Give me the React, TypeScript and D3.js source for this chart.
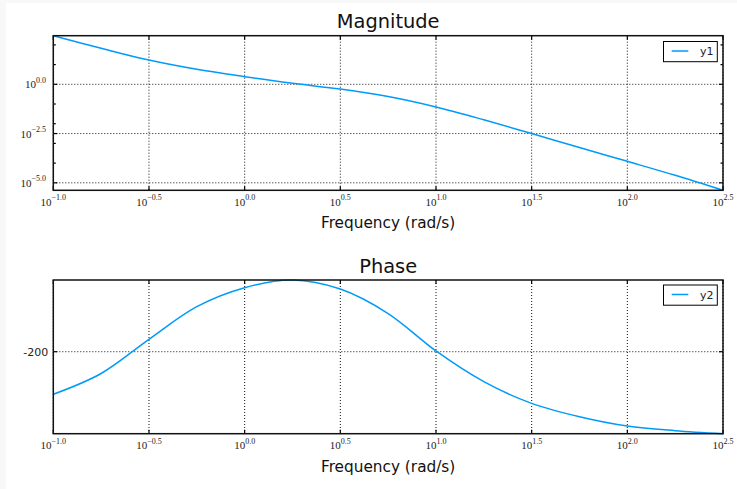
import React from "react";
import * as d3 from "d3";

// values (frequency in rad/s)
const frequency = [0.1, 0.1778, 0.3162, 0.5623, 1, 1.778, 3.162, 5.623, 10, 17.78, 31.62, 56.23, 100, 177.8, 316.2];
const magnitude = [293.1, 67.6, 17.0, 5.75, 2.45, 1.12, 0.575, 0.24, 0.0708, 0.0158, 0.00316, 0.000617, 0.000123, 2.4e-5, 4.17e-6];
const phase = [-234.8, -217.8, -189.9, -163.2, -147.7, -141.4, -148.8, -168.8, -199.4, -224.5, -242.2, -253.1, -260.7, -264.5, -267.0];

const xTickPowers = [-1, -0.5, 0, 0.5, 1, 1.5, 2, 2.5];
const magTickPowers = [0, -2.5, -5];
const magMinorPowers = [2, 1, -1, -2, -3, -4];
const phaseTicks = [-200];

const width = 737;
const height = 489;
const left = 53.3;
const right = 723;
const magBox = { top: 35.7, bottom: 190.3 };
const phaseBox = { top: 280, bottom: 433.7 };
const lineColor = "#009af9";
const sans = "DejaVu Sans, sans-serif";
const serif = "Liberation Serif, DejaVu Serif, serif";

const fmtPow = (p: number) => p.toFixed(1).replace("-", "\u2212");

const PowLabel = ({ x, y, p, anchor }: { x: number; y: number; p: number; anchor: string }) => (
  <text x={x} y={y} textAnchor={anchor} fontFamily={serif} fontSize={11} fill="#222">
    <tspan>10</tspan>
    <tspan dy={-5.5} fontSize={8}>{fmtPow(p)}</tspan>
  </text>
);

const App = () => {
  const x = d3.scaleLog().domain([Math.pow(10, -1), Math.pow(10, 2.5)]).range([left, right]);

  const yMag = d3
    .scaleLog()
    .domain(d3.extent(magnitude) as [number, number])
    .range([magBox.bottom, magBox.top]);

  const yPh = d3
    .scaleLinear()
    .domain(d3.extent(phase) as [number, number])
    .range([phaseBox.bottom, phaseBox.top]);

  const magLine = d3
    .line<number>()
    .x((_, i) => x(frequency[i]))
    .y((d) => yMag(d))
    .curve(d3.curveCatmullRom.alpha(0.5));

  const phaseLine = d3
    .line<number>()
    .x((_, i) => x(frequency[i]))
    .y((d) => yPh(d))
    .curve(d3.curveCatmullRom.alpha(0.5));

  const xTicks = (box: { top: number; bottom: number }) =>
    xTickPowers.map((p, i) => {
      const tx = x(Math.pow(10, p));
      return (
        <g key={"x" + i}>
          <line x1={tx} x2={tx} y1={box.top} y2={box.bottom} stroke="#111" strokeWidth={1} strokeDasharray="1 2" />
          <line x1={tx} x2={tx} y1={box.bottom} y2={box.bottom - 4} stroke="#000" strokeWidth={1.2} />
          <line x1={tx} x2={tx} y1={box.top} y2={box.top + 4} stroke="#000" strokeWidth={1.2} />
          <PowLabel x={tx} y={box.bottom + 15.3} p={p} anchor="middle" />
        </g>
      );
    });

  const yTick = (ty: number, len: number, key: string) => (
    <g key={key}>
      <line x1={left} x2={left + len} y1={ty} y2={ty} stroke="#000" strokeWidth={1.2} />
      <line x1={right} x2={right - len} y1={ty} y2={ty} stroke="#000" strokeWidth={1.2} />
    </g>
  );

  const legend = (top: number, label: string) => (
    <g>
      <rect x={663.5} y={top} width={53.8} height={20.2} fill="#fff" stroke="#000" strokeWidth={1} />
      <line x1={671.7} x2={688.3} y1={top + 9.5} y2={top + 9.5} stroke={lineColor} strokeWidth={1.5} />
      <text x={700} y={top + 13.6} fontFamily={sans} fontSize={11} fill="#222">{label}</text>
    </g>
  );

  const cx = (left + right) / 2;

  return (
    <svg width={width} height={height} style={{ position: "absolute", left: 0, top: 0 }}>
      <rect width={width} height={height} fill="#f8f8f8" />
      <rect x={6} y={3} width={width - 6} height={height - 3} fill="#fff" />

      {/* Magnitude */}
      <text x={cx} y={28} textAnchor="middle" fontFamily={sans} fontSize={19.4} fill="#111">Magnitude</text>
      {xTicks(magBox)}
      {magTickPowers.map((p, i) => {
        const ty = yMag(Math.pow(10, p));
        return (
          <g key={"m" + i}>
            <line x1={left} x2={right} y1={ty} y2={ty} stroke="#111" strokeWidth={1} strokeDasharray="1 2" />
            {yTick(ty, 4, "mt" + i)}
            <PowLabel x={46} y={ty + 4} p={p} anchor="end" />
          </g>
        );
      })}
      {magMinorPowers.map((p, i) => yTick(yMag(Math.pow(10, p)), 2.5, "mm" + i))}
      <path d={magLine(magnitude) || ""} fill="none" stroke={lineColor} strokeWidth={1.5} />
      <rect x={left} y={magBox.top} width={right - left} height={magBox.bottom - magBox.top} fill="none" stroke="#111" strokeWidth={1.5} />
      {legend(41.5, "y1")}
      <text x={cx} y={228.3} textAnchor="middle" fontFamily={sans} fontSize={15.3} fill="#111">Frequency (rad/s)</text>

      {/* Phase */}
      <text x={cx} y={273} textAnchor="middle" fontFamily={sans} fontSize={19.4} fill="#111">Phase</text>
      {xTicks(phaseBox)}
      {phaseTicks.map((t, i) => {
        const ty = yPh(t);
        return (
          <g key={"p" + i}>
            <line x1={left} x2={right} y1={ty} y2={ty} stroke="#111" strokeWidth={1} strokeDasharray="1 2" />
            {yTick(ty, 4, "pt" + i)}
            <text x={48.3} y={ty + 4} textAnchor="end" fontFamily={sans} fontSize={11} fill="#222">{t}</text>
          </g>
        );
      })}
      <path d={phaseLine(phase) || ""} fill="none" stroke={lineColor} strokeWidth={1.5} />
      <rect x={left} y={phaseBox.top} width={right - left} height={phaseBox.bottom - phaseBox.top} fill="none" stroke="#111" strokeWidth={1.5} />
      {legend(285, "y2")}
      <text x={cx} y={472} textAnchor="middle" fontFamily={sans} fontSize={15.3} fill="#111">Frequency (rad/s)</text>
    </svg>
  );
};

export default App;
